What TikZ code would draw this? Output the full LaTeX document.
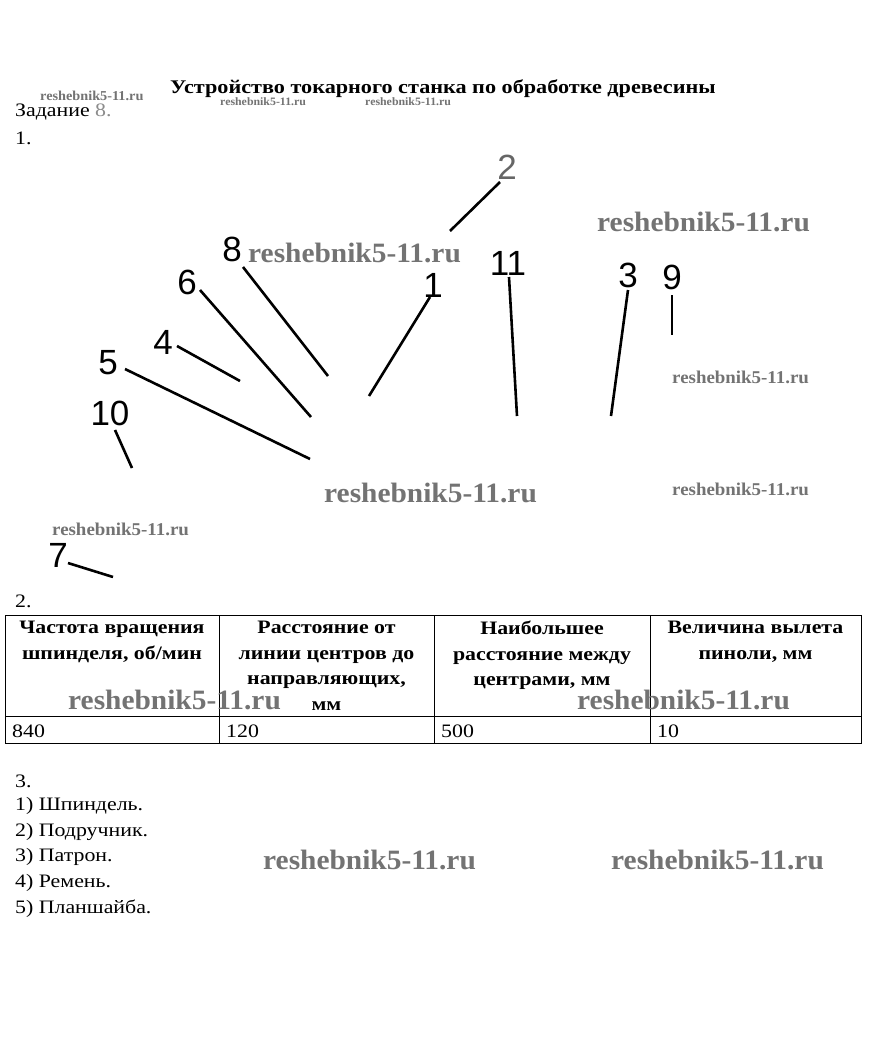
\documentclass[tikz,border=0pt]{standalone}
\usepackage{fontspec}
\setmainfont{Liberation Serif}[FakeStretch=1.15]
\newfontfamily\labfont{Liberation Sans}
\newfontfamily\wmfont{Liberation Serif}[FakeStretch=1.05]
\begin{document}
\begin{tikzpicture}[x=1pt,y=-1pt,
  lbl/.style={font=\labfont\fontsize{35}{35}\selectfont, inner sep=0pt},
  ldr/.style={line width=2.6pt, black},
  wmL/.style={font=\wmfont\bfseries\fontsize{28}{28}\selectfont, text=black!55, inner sep=0pt, anchor=west},
  wmM/.style={font=\wmfont\bfseries\fontsize{18}{18}\selectfont, text=black!55, inner sep=0pt, anchor=west},
  wmS/.style={font=\wmfont\bfseries\fontsize{13.6}{13.6}\selectfont, text=black!55, inner sep=0pt, anchor=west},
  wmT/.style={font=\wmfont\bfseries\fontsize{11.3}{11.3}\selectfont, text=black!55, inner sep=0pt, anchor=west},
  txt/.style={font=\fontsize{19}{19}\selectfont, inner sep=0pt, anchor=west},
  hdr/.style={font=\bfseries\fontsize{19}{25.5}\selectfont, inner sep=0pt, anchor=north, align=center},
  cell/.style={font=\fontsize{19}{19}\selectfont, inner sep=0pt, anchor=west},
  tline/.style={line width=0.9pt, black}]
\useasboundingbox (0,0) rectangle (869,1047);
\fill[white] (0,0) rectangle (869,1047);

% title and header
\node[font=\bfseries\fontsize{19.3}{19.3}\selectfont, inner sep=0pt] (title) at (443,89) {Устройство токарного станка по обработке древесины};
\node[wmS] (w1) at (40,96) {reshebnik5-11.ru};
\node[wmT] (w2) at (220,102) {reshebnik5-11.ru};
\node[wmT] (w3) at (365,102) {reshebnik5-11.ru};
\node[txt] (zad) at (15,112) {Задание \textcolor{black!45}{8.}};
\node[txt] (p1) at (15,138) {1.};

% labels
\node[lbl, text=black!60] (n2) at (507,167) {2};
\node[lbl] (n8) at (232,249) {8};
\node[lbl] (n1) at (433,285) {1};
\node[lbl] (n11) at (508,263) {11};
\node[lbl] (n3) at (628,275) {3};
\node[lbl] (n9) at (672,277) {9};
\node[lbl] (n6) at (187,282) {6};
\node[lbl] (n4) at (163,342) {4};
\node[lbl] (n5) at (108,363) {5};
\node[lbl] (n10) at (110,413) {10};
\node[lbl] (n7) at (58,555) {7};

\coordinate (a2) at (500,182); \coordinate (b2) at (450,231);
\coordinate (a8) at (243,267); \coordinate (b8) at (328,376);
\coordinate (a1) at (430,297); \coordinate (b1) at (369,396);
\coordinate (a11) at (509,277); \coordinate (b11) at (517,416);
\coordinate (a3) at (628,290); \coordinate (b3) at (611,416);
\coordinate (a9) at (672,295); \coordinate (b9) at (672,335);
\coordinate (a6) at (200,290); \coordinate (b6) at (311,417);
\coordinate (a4) at (177,346); \coordinate (b4) at (240,381);
\coordinate (a5) at (125,369); \coordinate (b5) at (310,459);
\coordinate (a10) at (115,430); \coordinate (b10) at (132,468);
\coordinate (a7) at (68,563); \coordinate (b7) at (113,577);
\foreach \k in {2,8,1,11,3,9,6,4,5,10,7} \draw[ldr] (a\k) -- (b\k);

% watermarks in the drawing
\node[wmL] (w4) at (248,253) {reshebnik5-11.ru};
\node[wmL] (w5) at (597,222) {reshebnik5-11.ru};
\node[wmM] (w6) at (672,377) {reshebnik5-11.ru};
\node[wmL] (w7) at (324,493) {reshebnik5-11.ru};
\node[wmM] (w8) at (672,489) {reshebnik5-11.ru};
\node[wmM] (w9) at (52,529) {reshebnik5-11.ru};

% table
\node[txt] (p2) at (15,601) {2.};
\draw[tline] (5,615) rectangle (861,743);
\draw[tline] (5,716) -- (861,716);
\foreach \xx in {219,434,650} \draw[tline] (\xx,615) -- (\xx,743);
\node[hdr] (h1) at (112,621) {Частота вращения\\шпинделя, об/мин};
\node[hdr] (h2) at (326.5,621) {Расстояние от\\линии центров до\\направляющих,\\мм};
\node[hdr] (h3) at (542,621) {Наибольшее\\расстояние между\\центрами, мм};
\node[hdr] (h4) at (755.5,621) {Величина вылета\\пиноли, мм};
\node[wmL] (w10) at (68,700) {reshebnik5-11.ru};
\node[wmL] (w11) at (577,700) {reshebnik5-11.ru};
\node[cell] (c1) at (12,731) {840};
\node[cell] (c2) at (226,731) {120};
\node[cell] (c3) at (441,731) {500};
\node[cell] (c4) at (657,731) {10};

% list
\node[txt] (p3) at (15,781) {3.};
\node[txt] (i1) at (15,806) {1) Шпиндель.};
\node[txt] (i2) at (15,832) {2) Подручник.};
\node[txt] (i3) at (15,857) {3) Патрон.};
\node[txt] (i4) at (15,883) {4) Ремень.};
\node[txt] (i5) at (15,909) {5) Планшайба.};
\node[wmL] (w12) at (263,860) {reshebnik5-11.ru};
\node[wmL] (w13) at (611,860) {reshebnik5-11.ru};
\end{tikzpicture}
\end{document}
